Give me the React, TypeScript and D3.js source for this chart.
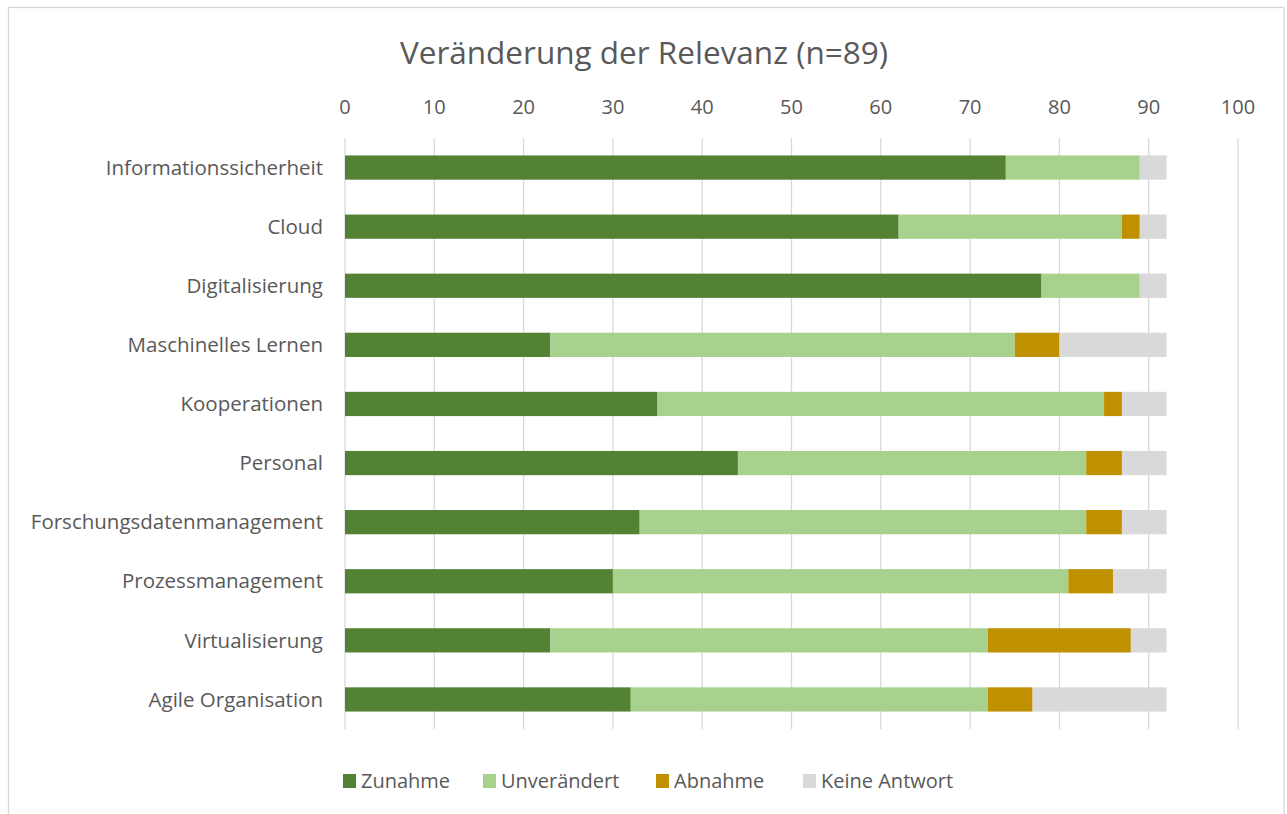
import React from "react";
import * as d3 from "d3";

const categories = [
  "Informationssicherheit",
  "Cloud",
  "Digitalisierung",
  "Maschinelles Lernen",
  "Kooperationen",
  "Personal",
  "Forschungsdatenmanagement",
  "Prozessmanagement",
  "Virtualisierung",
  "Agile Organisation",
];
const seriesNames = ["Zunahme", "Unverändert", "Abnahme", "Keine Antwort"];
const zunahme = [74, 62, 78, 23, 35, 44, 33, 30, 23, 32];
const unveraendert = [15, 25, 11, 52, 50, 39, 50, 51, 49, 40];
const abnahme = [0, 2, 0, 5, 2, 4, 4, 5, 16, 5];
const keineAntwort = [3, 3, 3, 12, 5, 5, 5, 6, 4, 15];
const xTicks = [0, 10, 20, 30, 40, 50, 60, 70, 80, 90, 100];
const colors = ["#548235", "#A9D18E", "#BF9000", "#D9D9D9"];

const W = 1287;
const H = 814;
const FONT = "'Open Sans', sans-serif";
const TEXT = "#595959";

export default function App() {
  const x = d3.scaleLinear().domain([0, 100]).range([345, 1238]);
  const y = d3.scaleBand().domain(categories).range([138, 729]).paddingInner(0.59).paddingOuter(0.295);
  const rows = categories.map((c, i) => ({
    cat: c,
    Zunahme: zunahme[i],
    "Unverändert": unveraendert[i],
    Abnahme: abnahme[i],
    "Keine Antwort": keineAntwort[i],
  }));
  const stack = d3.stack<any>().keys(seriesNames)(rows);

  const legendX = [343, 483, 656, 803];

  return (
    <div style={{ position: "absolute", left: 0, top: 0 }}>
      <svg width={W} height={H} style={{ display: "block" }}>
        <rect x={0} y={0} width={W} height={H} fill="#fff" />
        <rect x={8.5} y={7.5} width={1275.5} height={820} fill="#fff" stroke="#D9D9D9" strokeWidth={1.3} />
        <text x={644} y={64} textAnchor="middle" fontFamily={FONT} fontSize={31.5} fill={TEXT}>
          Veränderung der Relevanz (n=89)
        </text>
        {xTicks.map((t) => (
          <g key={t}>
            <line x1={x(t)} x2={x(t)} y1={138} y2={729} stroke="#D9D9D9" strokeWidth={1.3} />
            <text x={x(t)} y={114} textAnchor="middle" fontFamily={FONT} fontSize={20} fill={TEXT}>
              {t}
            </text>
          </g>
        ))}
        {stack.map((s, si) => (
          <g key={s.key} fill={colors[si]}>
            {s.map((d, i) =>
              d[1] - d[0] > 0 ? (
                <rect
                  key={i}
                  x={x(d[0])}
                  y={y(categories[i])}
                  width={x(d[1]) - x(d[0])}
                  height={y.bandwidth()}
                />
              ) : null
            )}
          </g>
        ))}
        {categories.map((c) => (
          <text
            key={c}
            x={323}
            y={(y(c) as number) + y.bandwidth() / 2}
            dy="0.35em"
            textAnchor="end"
            fontFamily={FONT}
            fontSize={20.5}
            fill={TEXT}
          >
            {c}
          </text>
        ))}
        {seriesNames.map((n, i) => (
          <g key={n}>
            <rect x={legendX[i]} y={774} width={13} height={14} fill={colors[i]} />
            <text x={legendX[i] + 18} y={781} dy="0.35em" fontFamily={FONT} fontSize={20} fill={TEXT}>
              {n}
            </text>
          </g>
        ))}
      </svg>
    </div>
  );
}
